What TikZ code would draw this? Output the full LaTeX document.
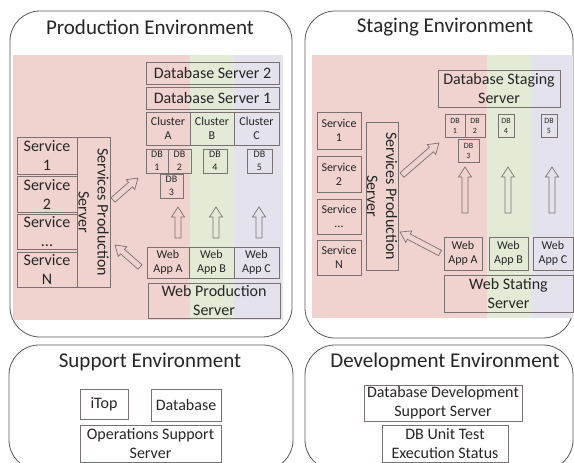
\documentclass[tikz,border=0pt]{standalone}
\usepackage{fontspec}
\setmainfont{Carlito}
\usetikzlibrary{calc}

\definecolor{pinkbg}{HTML}{F0D2CE}
\definecolor{greenbg}{HTML}{E3EBD6}
\definecolor{lavbg}{HTML}{E4E2EC}
\definecolor{boxline}{HTML}{7A7272}
\definecolor{envline}{HTML}{595959}
\definecolor{ink}{HTML}{262626}

\tikzset{
  envframe/.style={draw=envline, line width=0.8pt, rounded corners=30pt, inner sep=0pt},
  envtitle/.style={font=\fontsize{21}{25}\selectfont, text=ink, inner sep=0pt},
  box/.style={draw=boxline, line width=0.8pt, inner sep=0pt, align=center, text=ink},
  solid box/.style={box, fill=white},
  fbig/.style={font=\fontsize{16}{19}\selectfont},
  fmid/.style={font=\fontsize{12}{14}\selectfont},
  fsmall/.style={font=\fontsize{10}{13}\selectfont},
  fwee/.style={font=\fontsize{8}{10}\selectfont},
  harrow/.style={draw=boxline, line width=0.7pt, line join=miter},
}

% box given by its corners: [style]{name}{x1}{y1}{x2}{y2}{text}
\newcommand\placebox[7][]{%
  \pgfmathsetmacro\pbw{#5-#3}%
  \pgfmathsetmacro\pbh{#6-#4}%
  \node[box,#1,minimum width=\pbw pt,minimum height=\pbh pt] (#2) at ({(#3+#5)/2},{(#4+#6)/2}) {#7};}

% hollow block arrow from tail #1 to tip #2
\newcommand\blockarrow[2]{%
  \coordinate (ba-base) at ($(#2)!10pt!(#1)$);
  \draw[harrow] ($(#1)!3pt!90:(#2)$) -- ($(ba-base)!3pt!90:(#2)$)
    -- ($(ba-base)!6.5pt!90:(#2)$) -- (#2) -- ($(ba-base)!6.5pt!-90:(#2)$)
    -- ($(ba-base)!3pt!-90:(#2)$) -- ($(#1)!3pt!-90:(#2)$) -- cycle;}

\begin{document}
\begin{tikzpicture}[x=1pt,y=-1pt]
\useasboundingbox (0,0) rectangle (574,463);
\fill[white] (0,0) rectangle (574,463);

% environment frames
\placebox[envframe]{prodenv}{10}{11}{292}{337}{}
\placebox[envframe]{stageenv}{305}{11}{573}{338}{}
\placebox[envframe]{suppenv}{9}{345}{293}{470}{}
\placebox[envframe]{devenv}{305}{345}{573}{470}{}

\node[envtitle] (prodtitle) at (150,27) {Production Environment};
\node[envtitle] (stagetitle) at (445,27) {Staging Environment};
\node[envtitle] (supptitle) at (150,362) {Support Environment};
\node[envtitle] (devtitle) at (445,362) {Development Environment};

% coloured lanes
\fill[pinkbg] (13,55) rectangle (190,320);
\fill[greenbg] (190,55) rectangle (234,320);
\fill[lavbg] (234,55) rectangle (283,320);
\fill[pinkbg] (312,55) rectangle (487,318);
\fill[greenbg] (487,55) rectangle (532,318);
\fill[lavbg] (532,55) rectangle (573,318);

% ---- production ----
\placebox[fbig]{pds2}{146}{62}{279}{84}{Database Server 2}
\placebox[fbig]{pds1}{146}{87}{279}{109}{Database Server 1}
\placebox[fmid]{pcla}{146}{112}{190}{145}{Cluster\\A}
\placebox[fmid]{pclb}{190}{112}{234}{145}{Cluster\\B}
\placebox[fmid]{pclc}{234}{112}{279}{145}{Cluster\\C}
\placebox[fsmall]{pdb1}{146}{149}{168}{173}{DB\\1}
\placebox[fsmall]{pdb2}{168}{149}{191}{173}{DB\\2}
\placebox[fsmall]{pdb3}{160}{174}{183}{198}{DB\\3}
\placebox[fsmall]{pdb4}{203}{149}{227}{173}{DB\\4}
\placebox[fsmall]{pdb5}{247}{149}{272}{173}{DB\\5}
\placebox[fmid]{pwa}{147}{247}{189}{278}{Web\\App A}
\placebox[fmid]{pwb}{189}{247}{234}{278}{Web\\App B}
\placebox[fmid]{pwc}{234}{247}{279}{278}{Web\\App C}
\placebox[fbig]{pws}{148}{283}{280}{318}{Web Production\\Server}
\placebox[fbig]{psv1}{17}{137}{77}{174}{Service\\1}
\placebox[fbig]{psv2}{17}{176}{77}{212}{Service\\2}
\placebox[fbig]{psv3}{17}{214}{77}{249}{Service\\...}
\placebox[fbig]{psv4}{17}{252}{77}{287}{Service\\N}
\node[box,fbig,rotate=-90,minimum width=150pt,minimum height=33pt] (psps) at (93.5,212) {Services Production\\Server};

% ---- staging ----
\placebox[fbig]{sdss}{438}{70}{560}{107}{Database Staging\\Server}
\placebox[fwee]{sdb1}{445}{114}{465}{137}{DB\\1}
\placebox[fwee]{sdb2}{465}{114}{485}{137}{DB\\2}
\placebox[fwee]{sdb3}{458}{139}{479}{162}{DB\\3}
\placebox[fwee]{sdb4}{498}{114}{514}{137}{DB\\4}
\placebox[fwee]{sdb5}{541}{114}{557}{137}{DB\\5}
\placebox[fmid]{ssv1}{317}{112}{361}{149}{Service\\1}
\placebox[fmid]{ssv2}{317}{156}{361}{192}{Service\\2}
\placebox[fmid]{ssv3}{317}{199}{361}{234}{Service\\...}
\placebox[fmid]{ssv4}{317}{240}{361}{275}{Service\\N}
\node[box,fbig,rotate=-90,minimum width=148pt,minimum height=32pt] (ssps) at (382,196) {Services Production\\Server};
\placebox[fmid]{swa}{444}{237}{482}{270}{Web\\App A}
\placebox[fmid]{swb}{489}{237}{528}{270}{Web\\App B}
\placebox[fmid]{swc}{533}{237}{573}{270}{Web\\App C}
\placebox[fbig]{sws}{444}{275}{573}{312}{Web Stating\\Server}

% ---- support ----
\placebox[solid box,fbig]{itop}{80}{389}{128}{419}{iTop}
\placebox[solid box,fbig]{suppdb}{151}{389}{221}{421}{Database}
\placebox[solid box,fbig]{opss}{80}{425}{221}{462}{Operations Support\\Server}

% ---- development ----
\placebox[solid box,fbig]{ddss}{364}{385}{522}{421}{Database Development\\Support Server}
\placebox[solid box,fbig]{dbut}{382}{425}{508}{462}{DB Unit Test\\Execution Status}

% ---- arrow end points ----
\coordinate (pua-t) at (178,238); \coordinate (pua-h) at (178,207);
\coordinate (pub-t) at (216,238); \coordinate (pub-h) at (216,207);
\coordinate (puc-t) at (259,238); \coordinate (puc-h) at (259,207);
\coordinate (pdb-t) at (113,200); \coordinate (pdb-h) at (138,178);
\coordinate (psv-t) at (140,267); \coordinate (psv-h) at (115,245);
\coordinate (sua-t) at (465,213); \coordinate (sua-h) at (465,167);
\coordinate (sub-t) at (508,213); \coordinate (sub-h) at (508,167);
\coordinate (suc-t) at (552,213); \coordinate (suc-h) at (552,167);
\coordinate (sdb-t) at (402,175); \coordinate (sdb-h) at (439,143);
\coordinate (ssv-t) at (440,253); \coordinate (ssv-h) at (400,232);

\blockarrow{pua-t}{pua-h}
\blockarrow{pub-t}{pub-h}
\blockarrow{puc-t}{puc-h}
\blockarrow{pdb-t}{pdb-h}
\blockarrow{psv-t}{psv-h}
\blockarrow{sua-t}{sua-h}
\blockarrow{sub-t}{sub-h}
\blockarrow{suc-t}{suc-h}
\blockarrow{sdb-t}{sdb-h}
\blockarrow{ssv-t}{ssv-h}
\end{tikzpicture}
\end{document}
